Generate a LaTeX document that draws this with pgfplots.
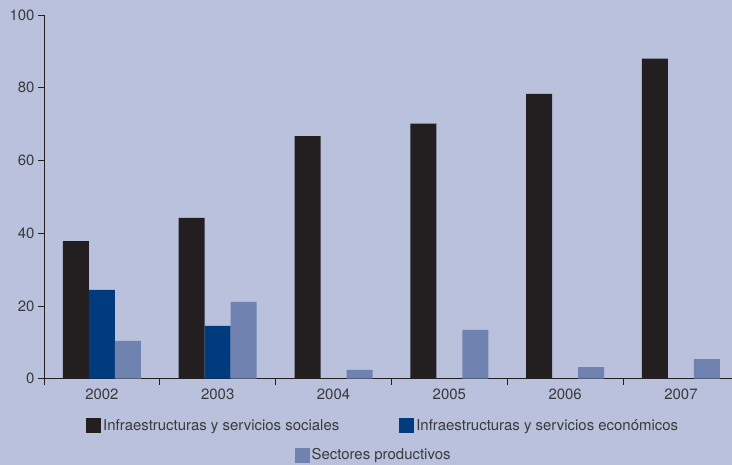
\documentclass[border=0pt]{standalone}
\usepackage{pgfplots}
\pgfplotsset{compat=1.18}
\usepackage{fontspec}
\setmainfont{TeX Gyre Heros}
\definecolor{bg}{HTML}{B9C1DC}
\definecolor{cblack}{HTML}{231F20}
\definecolor{cdark}{HTML}{003C7D}
\definecolor{clight}{HTML}{7083B0}
\definecolor{txt}{HTML}{3A3A3A}
\pgfplotsset{
  sqleg/.style={legend image code/.code={\fill[##1,draw=none] (0bp,-7.5bp) rectangle (15bp,7.5bp);}},
}
\begin{document}
\begin{tikzpicture}[x=1bp,y=1bp]
\fill[bg] (0,0) rectangle (732,465);
\begin{axis}[
  at={(44bp,86.3bp)}, anchor=south west,
  scale only axis, width=688bp, height=363.7bp,
  xmin=-0.5, xmax=5.441, ymin=0, ymax=100,
  axis x line*=bottom, axis y line*=left,
  axis line style={draw=cblack, line width=0.9bp},
  ybar=0pt, bar width=26bp,
  xtick={0,1,2,3,4,5},
  xticklabels={2002,2003,2004,2005,2006,2007},
  minor xtick={-0.5,0.5,1.5,2.5,3.5,4.5},
  ytick={0,20,40,60,80,100},
  tick align=outside,
  major tick length=6bp, minor tick length=6bp,
  major x tick style={draw=none},
  minor x tick style={draw=cblack, line width=0.9bp},
  major y tick style={draw=cblack, line width=0.9bp},
  tick label style={font=\fontsize{15}{18}\selectfont, text=txt},
  /pgf/number format/assume math mode=true,
  xticklabel style={yshift=-1bp},
  every axis plot post/.append style={sqleg},
  legend style={at={(rel axis cs:0.493,-0.129)}, anchor=center,
    draw=none, fill=none, inner sep=0pt, legend columns=2,
    font=\fontsize{15}{18}\selectfont, text=txt,
    nodes={inner sep=2bp},
    /tikz/every even column/.append style={column sep=58bp}},
  legend cell align=left,
]
\addplot[fill=cblack, draw=none] coordinates {(0,37.8) (1,44.2) (2,66.7) (3,70.1) (4,78.3) (5,88.0)};
\addplot[fill=cdark, draw=none] coordinates {(0,24.4) (1,14.5)};
\addplot[fill=clight, draw=none] coordinates {(0,10.4) (1,21.1) (2,2.4) (3,13.4) (4,3.2) (5,5.4)};
\legend{Infraestructuras y servicios sociales, Infraestructuras y servicios económicos}
\end{axis}
\begin{axis}[
  at={(44bp,86.3bp)}, anchor=south west,
  scale only axis, width=688bp, height=363.7bp,
  xmin=0, xmax=1, ymin=0, ymax=1, hide axis,
  legend style={at={(rel axis cs:0.479,-0.21)}, anchor=center,
    draw=none, fill=none, inner sep=0pt,
    font=\fontsize{15}{18}\selectfont, text=txt,
    nodes={inner sep=2bp}},
]
\addlegendimage{sqleg, fill=clight, draw=none}
\addlegendentry{Sectores productivos}
\end{axis}
\pgfresetboundingbox
\useasboundingbox (0,0) rectangle (732,465);
\end{tikzpicture}
\end{document}
